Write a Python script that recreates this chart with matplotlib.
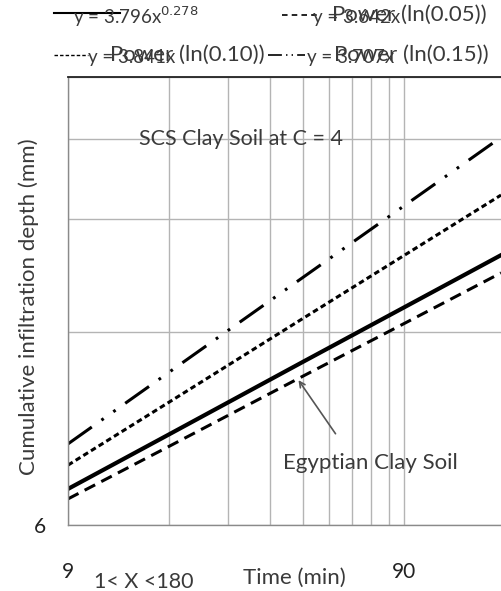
import numpy as np
import matplotlib.pyplot as plt
from matplotlib.lines import Line2D
from matplotlib.ticker import FixedLocator, NullLocator

plt.rcParams['font.family'] = ['Lato', 'DejaVu Sans']
plt.rcParams['lines.scale_dashes'] = False

# Time (min) and cumulative infiltration depth (mm)
time_min = [9, 18, 45, 90, 175]
egypt_clay = [6.83, 8.31, 10.78, 13.11, 15.82]      # y = 3.796x^0.278
scs_005 = [6.59, 7.96, 10.24, 12.37, 14.84]         # Power (ln(0.05))
scs_010 = [7.44, 9.33, 12.60, 15.80, 19.63]         # Power (ln(0.10))
scs_015 = [8.03, 10.39, 14.60, 18.88, 24.16]        # Power (ln(0.15))

x_grid = [9, 18, 27, 36, 45, 54, 63, 72, 81, 90]
x_labels = ['9', '', '', '', '', '', '', '', '', '90']
y_grid = [6, 12, 18, 24, 30]
y_labels = ['6', '', '', '', '']

grid_col = '#b4b4b4'
txt_col = '#3a3a3a'

fig = plt.figure(figsize=(5.01, 5.91), dpi=100)
ax = fig.add_axes([68 / 501, 66 / 591, 433 / 501, 448 / 591])
ax.set_xscale('log')
ax.set_yscale('log')
ax.set_xlim(9, 9 * 10 ** (433 / 336))
ax.set_ylim(6, 30)

ax.xaxis.set_major_locator(FixedLocator(x_grid))
ax.set_xticklabels(x_labels)
ax.xaxis.set_minor_locator(NullLocator())
ax.yaxis.set_major_locator(FixedLocator(y_grid))
ax.set_yticklabels(y_labels)
ax.yaxis.set_minor_locator(NullLocator())
ax.tick_params(axis='x', length=0, pad=27, labelsize=15, labelcolor='#222222')
ax.tick_params(axis='y', length=0, pad=16, labelsize=15, labelcolor='#222222')
ax.grid(True, color=grid_col, linewidth=1.0)

for s in ['left', 'bottom']:
    ax.spines[s].set_color('#8a8a8a')
    ax.spines[s].set_linewidth(1.0)
ax.spines['top'].set_color('#222222')
ax.spines['top'].set_linewidth(1.3)
ax.spines['right'].set_visible(False)

ls_005 = (0, (8.5, 5))
ls_010 = (0, (4, 2.5))
ls_015 = (0, (21, 8.5, 2, 8.5, 2, 8.5))

ax.plot(time_min, scs_015, color='black', lw=2.2, ls=ls_015, dash_capstyle='butt')
ax.plot(time_min, scs_010, color='black', lw=2.2, ls=ls_010, dash_capstyle='butt')
ax.plot(time_min, scs_005, color='black', lw=2.2, ls=ls_005, dash_capstyle='butt')
ax.plot(time_min, egypt_clay, color='black', lw=3.0)

ax.text(29.5, 24, 'SCS Clay Soil at C = 4', ha='center', va='center',
        fontsize=15.5, color=txt_col)
ax.text(71.3, 7.49, 'Egyptian Clay Soil', ha='center', va='center',
        fontsize=16, color=txt_col)
ax.annotate('', xy=(43.2, 10.18), xytext=(56.9, 8.26),
            arrowprops=dict(arrowstyle='->', color='#555555', lw=1.2))

ax.set_ylabel('Cumulative infiltration depth (mm)', fontsize=16, color=txt_col)
ax.yaxis.set_label_coords(-0.068, 0.487)
fig.text(294 / 501, 1 - 578 / 591, 'Time (min)', ha='center', va='center',
         fontsize=16, color=txt_col)
fig.text(144 / 501, 1 - 582 / 591, '1< X <180', ha='center', va='center',
         fontsize=15.5, color=txt_col)

# legend drawn by hand (labels overlap as in the original)
def fx(p):
    return p / 501

def fy(p):
    return 1 - p / 591

fig.add_artist(Line2D([fx(54), fx(120)], [fy(13), fy(13)], color='black', lw=1.5))
fig.text(fx(73), fy(17), 'y = 3.796x$^{0.278}$', fontsize=13.5, color=txt_col, va='center')

fig.add_artist(Line2D([fx(282), fx(318)], [fy(15), fy(15)], color='black', lw=1.2, ls=(0, (4, 3))))
fig.text(fx(313), fy(18), 'y = 3.642x', fontsize=13.5, color=txt_col, va='center')
fig.text(fx(332), fy(15), 'Power (ln(0.05))', fontsize=16, color=txt_col, va='center')

fig.add_artist(Line2D([fx(54), fx(88)], [fy(55), fy(55)], color='black', lw=1.0, ls=(0, (2.5, 1.5))))
fig.text(fx(88), fy(57), 'y = 3.841x', fontsize=13.5, color=txt_col, va='center')
fig.text(fx(110), fy(55), 'Power (ln(0.10))', fontsize=16, color=txt_col, va='center')

fig.add_artist(Line2D([fx(268), fx(305)], [fy(55), fy(55)], color='black', lw=1.2,
                      ls=(0, (10, 3, 1, 3, 1, 3))))
fig.text(fx(307), fy(57), 'y = 3.707x', fontsize=13.5, color=txt_col, va='center')
fig.text(fx(334), fy(55), 'Power (ln(0.15))', fontsize=16, color=txt_col, va='center')

fig.savefig('out.png', dpi=100)
